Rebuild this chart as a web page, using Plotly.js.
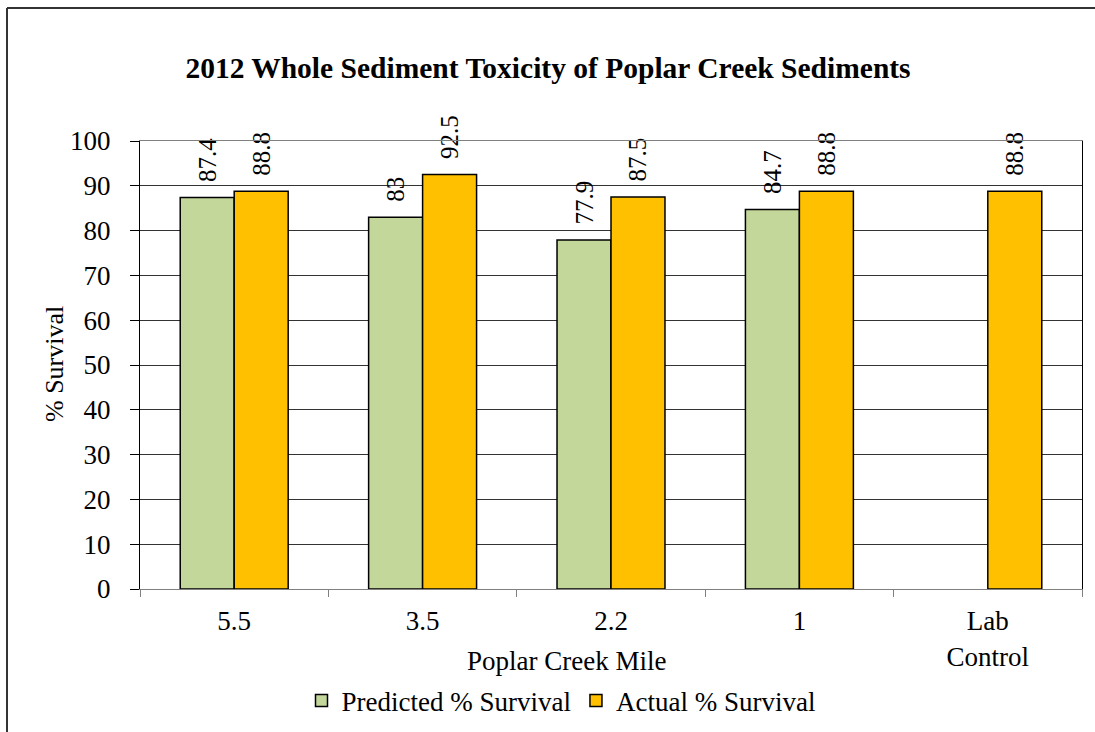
<!DOCTYPE html>
<html>
<head>
<meta charset="utf-8">
<script src="https://cdn.plot.ly/plotly-3.0.1.min.js"></script>
<style>html,body{margin:0;padding:0;background:#fff;}#chart{width:1095px;height:732px;}</style>
</head>
<body>
<div id="chart"></div>
<script>
const categories = ["5.5", "3.5", "2.2", "1", "Lab<br>Control"];
const predicted = [87.4, 83, 77.9, 84.7, null];
const actual = [88.8, 92.5, 87.5, 88.8, 88.8];
const seriesNames = ["Predicted % Survival", "Actual % Survival"];
const yTicks = [0, 10, 20, 30, 40, 50, 60, 70, 80, 90, 100];

const FONT = "Liberation Serif";
const labelFont = {family: FONT, size: 25, color: "#000"};

// leading no-break spaces lift the rotated label off the bar top
function fmt(arr) { return arr.map(v => v === null ? "" : "\u00a0\u00a0" + String(v)); }

const traces = [
  {
    type: "bar", name: seriesNames[0], x: categories, y: predicted,
    text: fmt(predicted), textposition: "outside", textangle: -90,
    textfont: labelFont, constraintext: "none", cliponaxis: false,
    marker: {color: "#C4D79B", line: {color: "#000", width: 1.5}},
    hoverinfo: "skip"
  },
  {
    type: "bar", name: seriesNames[1], x: categories, y: actual,
    text: fmt(actual), textposition: "outside", textangle: -90,
    textfont: labelFont, constraintext: "none", cliponaxis: false,
    marker: {color: "#FFC000", line: {color: "#000", width: 1.5}},
    hoverinfo: "skip"
  }
];

const L = 140, R = 13, T = 141, B = 143;
const W = 1095 - L - R, H = 732 - T - B;
const px = v => (v - L) / W;
const py = v => (732 - B - v) / H;

const layout = {
  width: 1095, height: 732,
  margin: {l: L, r: R, t: T, b: B, pad: 0, autoexpand: false},
  paper_bgcolor: "#fff", plot_bgcolor: "#fff",
  font: {family: FONT, color: "#000", size: 26},
  barmode: "group", bargap: 0.427, bargroupgap: 0,
  showlegend: true,
  legend: {
    orientation: "h", x: px(561), xanchor: "center", y: py(701), yanchor: "middle",
    font: {family: FONT, size: 27, color: "#000"}, itemwidth: 30, traceorder: "normal",
    bgcolor: "rgba(0,0,0,0)"
  },
  title: {
    text: "<b>2012 Whole Sediment Toxicity of Poplar Creek Sediments</b>",
    font: {family: FONT, size: 29.5, color: "#000"},
    x: px(548), xref: "paper", xanchor: "center",
    y: 1 - 68 / 732, yanchor: "middle"
  },
  xaxis: {
    type: "category", tickson: "boundaries", ticks: "outside", ticklen: 7,
    tickcolor: "#808080", tickwidth: 1,
    showline: true, linecolor: "#808080", linewidth: 1, mirror: true,
    showgrid: false, tickfont: {family: FONT, size: 27, color: "#000"},
    ticklabelstandoff: 8, fixedrange: true, automargin: false
  },
  yaxis: {
    range: [0, 100], tickvals: yTicks, ticktext: yTicks.map(String),
    ticks: "outside", ticklen: 9, tickcolor: "#000", tickwidth: 1,
    showline: true, linecolor: "#000", linewidth: 1, mirror: true,
    showgrid: true, gridcolor: "#333", gridwidth: 1, zeroline: false,
    tickfont: {family: FONT, size: 27, color: "#000"},
    ticklabelstandoff: 14,
    fixedrange: true, automargin: false
  },
  annotations: [
    {
      text: "Poplar Creek Mile", xref: "paper", yref: "paper",
      x: px(566), y: py(661), xanchor: "center", yanchor: "middle",
      showarrow: false, font: {family: FONT, size: 27, color: "#000"}
    },
    {
      text: "% Survival", xref: "paper", yref: "paper", textangle: -90,
      x: px(54), y: py(364), xanchor: "center", yanchor: "middle",
      showarrow: false, font: {family: FONT, size: 26, color: "#000"}
    }
  ],
  shapes: [
    {type: "line", xref: "paper", yref: "paper", x0: px(7), x1: px(7), y0: py(740), y1: py(8),
     line: {color: "#333", width: 2}},
    {type: "line", xref: "paper", yref: "paper", x0: px(7), x1: px(1100), y0: py(8), y1: py(8),
     line: {color: "#333", width: 2}}
  ]
};

Plotly.newPlot("chart", traces, layout, {displayModeBar: false, staticPlot: true});
</script>
</body>
</html>
